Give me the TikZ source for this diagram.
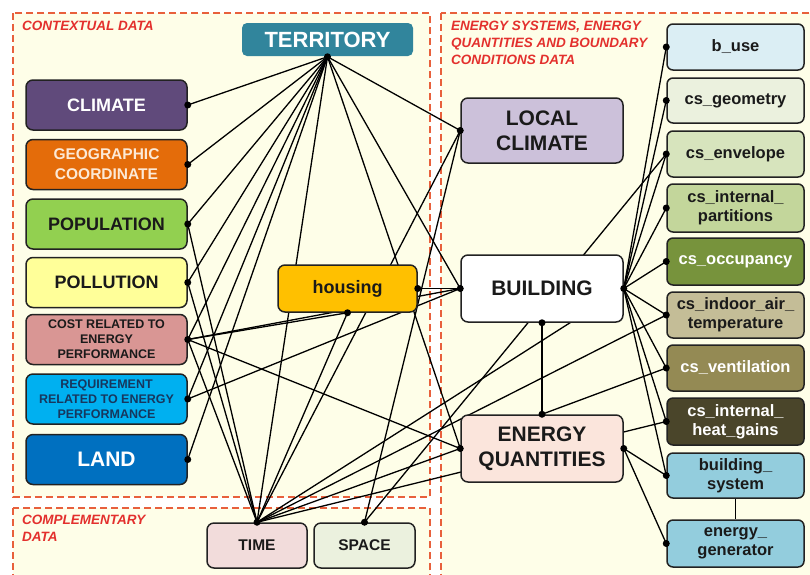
\documentclass[tikz,border=0pt]{standalone}
\usepackage{fontspec}
\setmainfont{Liberation Sans}
\pgfdeclarelayer{frames}
\pgfdeclarelayer{edges}
\pgfsetlayers{frames,edges,main}
\definecolor{framec}{HTML}{E8603C}
\definecolor{labelc}{HTML}{E3302D}
\definecolor{creamc}{HTML}{FEFEE8}
\definecolor{boxline}{HTML}{222222}
\definecolor{territoryc}{HTML}{31859C}
\definecolor{climatec}{HTML}{604A7B}
\definecolor{geoc}{HTML}{E46C0A}
\definecolor{geotext}{HTML}{FCE9D6}
\definecolor{popc}{HTML}{92D050}
\definecolor{pollc}{HTML}{FFFF99}
\definecolor{costc}{HTML}{D99694}
\definecolor{reqc}{HTML}{00B0F0}
\definecolor{reqtext}{HTML}{17375E}
\definecolor{landc}{HTML}{0070C0}
\definecolor{housingc}{HTML}{FFC000}
\definecolor{timec}{HTML}{F2DCDB}
\definecolor{spacec}{HTML}{EBF1DE}
\definecolor{lcc}{HTML}{CCC1DA}
\definecolor{eqc}{HTML}{FBE5DC}
\definecolor{usec}{HTML}{DBEEF4}
\definecolor{geomc}{HTML}{EBF1DE}
\definecolor{envc}{HTML}{D7E4BD}
\definecolor{partc}{HTML}{C3D69B}
\definecolor{occc}{HTML}{77933C}
\definecolor{indoorc}{HTML}{C4BD97}
\definecolor{ventc}{HTML}{948A54}
\definecolor{heatc}{HTML}{4A452A}
\definecolor{sysc}{HTML}{93CDDD}
\definecolor{darktext}{HTML}{1A1A1A}
\tikzset{
  box/.style={draw=boxline, line width=1.5pt, rounded corners=7pt, align=center, inner sep=0pt, text=darktext},
  lbox/.style={box, minimum width=161pt, minimum height=50pt},
  rbox/.style={box, minimum width=137pt, rounded corners=6pt, font=\bfseries\fontsize{16.5}{19}\selectfont},
  mbox/.style={box, minimum width=162pt, minimum height=66pt, font=\bfseries\fontsize{21}{25}\selectfont},
  link/.style={line width=1.3pt, black},
  frame/.style={draw=framec, dash pattern=on 7pt off 4pt, line width=1.8pt, fill=creamc},
  flabel/.style={anchor=north west, align=left, text=labelc, inner sep=0pt, font=\bfseries\itshape\fontsize{13.5}{17}\selectfont}
}
\begin{document}
\begin{tikzpicture}[x=1pt,y=-1pt]
\useasboundingbox (0,0) rectangle (810,574);
\clip (0,0) rectangle (810,574);
\begin{pgfonlayer}{frames}
\fill[white] (0,0) rectangle (810,574);
\draw[frame] (13,13) rectangle (430,497);
\draw[frame] (13,508) rectangle (430,600);
\draw[frame] (441,13) rectangle (830,600);
\end{pgfonlayer}

% labels
\node[flabel] (ctx) at (22,21) {CONTEXTUAL DATA};
\node[flabel] (comp) at (22,515) {COMPLEMENTARY\\DATA};
\node[flabel] (ens) at (451,21) {ENERGY SYSTEMS, ENERGY\\QUANTITIES AND BOUNDARY\\CONDITIONS DATA};

% contextual
\node[box, draw=none, fill=territoryc, text=white, minimum width=171pt, minimum height=33pt, rounded corners=5pt, font=\bfseries\fontsize{22}{24}\selectfont] (territory) at (327.5,39.5) {TERRITORY};
\node[lbox, fill=climatec, text=white, font=\bfseries\fontsize{18}{20}\selectfont] (climate) at (106.5,105) {CLIMATE};
\node[lbox, fill=geoc, text=geotext, font=\bfseries\fontsize{15.5}{20}\selectfont] (geo) at (106.5,164.5) {GEOGRAPHIC\\COORDINATE};
\node[lbox, fill=popc, font=\bfseries\fontsize{18}{20}\selectfont] (pop) at (106.5,224) {POPULATION};
\node[lbox, fill=pollc, font=\bfseries\fontsize{18}{20}\selectfont] (poll) at (106.5,282.5) {POLLUTION};
\node[lbox, fill=costc, font=\bfseries\fontsize{12.5}{15}\selectfont] (cost) at (106.5,339.5) {COST RELATED TO\\ENERGY\\PERFORMANCE};
\node[lbox, fill=reqc, text=reqtext, font=\bfseries\fontsize{12.5}{15}\selectfont] (req) at (106.5,399) {REQUIREMENT\\RELATED TO ENERGY\\PERFORMANCE};
\node[lbox, fill=landc, text=white, font=\bfseries\fontsize{21}{23}\selectfont] (land) at (106.5,459.5) {LAND};
\node[box, fill=housingc, minimum width=139pt, minimum height=47pt, font=\bfseries\fontsize{18}{20}\selectfont] (housing) at (347.5,288.5) {housing};

% complementary
\node[box, fill=timec, minimum width=100pt, minimum height=45pt, font=\bfseries\fontsize{15.5}{18}\selectfont] (time) at (257,545.5) {TIME};
\node[box, fill=spacec, minimum width=101pt, minimum height=45pt, font=\bfseries\fontsize{15.5}{18}\selectfont] (space) at (364.5,545.5) {SPACE};

% energy systems
\node[mbox, fill=lcc, minimum height=65pt] (lc) at (542,130.5) {LOCAL\\CLIMATE};
\node[mbox, fill=white, minimum height=67pt] (building) at (542,288.5) {BUILDING};
\node[mbox, fill=eqc, minimum height=67pt] (eq) at (542,448.5) {ENERGY\\QUANTITIES};

\node[rbox, fill=usec, minimum height=46pt] (cuse) at (735.5,47) {b\_use};
\node[rbox, fill=geomc, minimum height=45pt] (cgeom) at (735.5,100.5) {cs\_geometry};
\node[rbox, fill=envc, minimum height=46pt] (cenv) at (735.5,154) {cs\_envelope};
\node[rbox, fill=partc, minimum height=48pt] (cpart) at (735.5,208) {cs\_internal\_\\partitions};
\node[rbox, fill=occc, text=white, minimum height=47pt] (cocc) at (735.5,261.5) {cs\_occupancy};
\node[rbox, fill=indoorc, minimum height=46pt] (cindoor) at (735.5,315) {cs\_indoor\_air\_\\temperature};
\node[rbox, fill=ventc, text=white, minimum height=46pt] (cvent) at (735.5,368) {cs\_ventilation};
\node[rbox, fill=heatc, text=white, minimum height=47pt] (cheat) at (735.5,421.5) {cs\_internal\_\\heat\_gains};
\node[rbox, fill=sysc, minimum height=45pt] (bsys) at (735.5,475.5) {building\_\\system};
\node[rbox, fill=sysc, minimum height=47pt] (egen) at (735.5,543.5) {energy\_\\generator};

\begin{pgfonlayer}{edges}
\foreach \t in {climate,geo,pop,poll,cost,req,land} \draw[link] (territory.south) -- (\t.east);
\draw[link] (territory.south) -- (time.north);
\draw[link] (territory.south) -- (lc.west);
\draw[link] (territory.south) -- (building.west);
\draw[link] (territory.south) -- (eq.west);
\draw[link] (pop.east) -- (time.north);
\draw[link] (poll.east) -- (time.north);
\draw[link] (cost.east) -- (time.north);
\draw[link] (cost.east) -- (housing.south);
\draw[link] (cost.east) -- (building.west);
\draw[link] (cost.east) -- (eq.west);
\draw[link] (req.east) -- (building.west);
\draw[link] (housing.east) -- (building.west);
\draw[link] (housing.south) -- (time.north);
\draw[link] (lc.west) -- (time.north);
\draw[link] (lc.west) -- (space.north);
\draw[link] (space.north) -- (cenv.west);
\draw[link] (time.north) -- (building.east);
\draw[link] (time.north) -- (cindoor.west);
\draw[link] (time.north) -- (eq.west);
\draw[link] (time.north) -- (cheat.west);
\foreach \t in {cuse,cgeom,cenv,cpart,cocc,cindoor,cvent,cheat,bsys} \draw[link] (building.east) -- (\t.west);
\draw[link] (building.south) -- (eq.north);
\draw[link] (eq.north) -- (cvent.west);
\draw[link] (eq.east) -- (bsys.west);
\draw[link] (eq.east) -- (egen.west);
\draw[link] (bsys.south) -- (egen.north);
\end{pgfonlayer}

\foreach \p in {territory.south,climate.east,geo.east,pop.east,poll.east,cost.east,req.east,land.east,housing.east,housing.south,time.north,space.north,lc.west,building.west,building.east,building.south,eq.north,eq.west,eq.east,cuse.west,cgeom.west,cenv.west,cpart.west,cocc.west,cindoor.west,cvent.west,cheat.west,bsys.west,egen.west}
  \fill (\p) circle (3.5pt);
\end{tikzpicture}
\end{document}
